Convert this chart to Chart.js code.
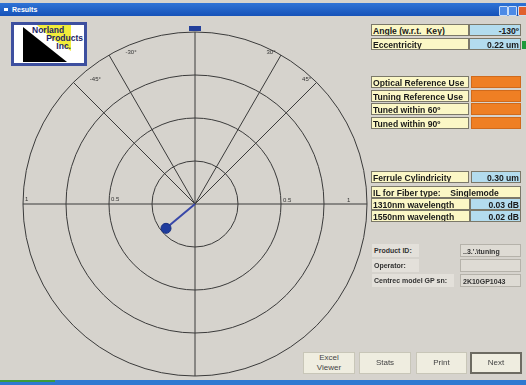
<!DOCTYPE html>
<html>
<head>
<meta charset="utf-8">
<script src="https://cdn.jsdelivr.net/npm/chart.js@4"></script>
<style>
  body { margin: 0; width: 526px; height: 385px; overflow: hidden; background: #d6d3cd;
         font-family: "Liberation Sans", Arial, sans-serif; position: relative; }
  .title { position: absolute; left: 0; top: 3px; width: 526px; height: 13px;
           background: linear-gradient(#2f73d6, #1652b8); color: #fff; font-size: 7px; font-weight: bold; line-height: 13px; }
  .title span { margin-left: 12px; }
  .title i { position: absolute; left: 4px; top: 5px; width: 4px; height: 3px; background: #fff; }
  .wbtn { position: absolute; top: 3px; width: 7px; height: 8px; border-radius: 1px; background: #4d8ae6; border: 1px solid #c9dcf5; }
  #chartBox { position: absolute; left: 13px; top: 22px; width: 364px; height: 364px; }
  .box { position: absolute; height: 11px; line-height: 11px; font-size: 8.6px; font-weight: bold; color: #1a1a1a;
         box-sizing: border-box; border: 1px solid #7b7869; white-space: pre; overflow: hidden; }
  .lab { background: #fbf7c6; padding-left: 1px; }
  .val { background: #b3dcee; text-align: right; padding-right: 1px; }
  .org { background: #ef7f24; border-color: #d06a1c; }
  .grey { position: absolute; height: 13px; line-height: 13px; font-size: 7px; font-weight: bold; color: #333;
          background: #e3e0da; padding-left: 2px; box-sizing: border-box; white-space: pre; }
  .gval { border: 1px solid #b5b2aa; background: #dedbd4; }
  .btn { position: absolute; top: 352px; height: 22px; box-sizing: border-box; background: #efede0;
         border: 1px solid #c8c6b8; font-size: 8px; color: #444; text-align: center; display: flex;
         align-items: center; justify-content: center; line-height: 10px; }
  .bottom { position: absolute; left: 0; top: 380px; width: 526px; height: 5px; background: #2f79d1; }
</style>
</head>
<body>
<div class="title"><i></i><span>Results</span>
  <div class="wbtn" style="left:499px"></div>
  <div class="wbtn" style="left:508px"></div>
  <div class="wbtn" style="left:518px;background:#e0602e"></div>
</div>

<div id="chartBox"><canvas id="polar" width="364" height="364"></canvas></div>

<svg style="position:absolute;left:11px;top:22px" width="76" height="44" viewBox="0 0 76 44">
  <rect x="1.5" y="1.5" width="73" height="41" fill="#fff" stroke="#3d4f9f" stroke-width="3"/>
  <polygon points="26,3 60,3 60,29 40,16" fill="#f2ec3a"/>
  <polygon points="12,5 12,40 56,40" fill="#000"/>
  <text x="21" y="11" font-size="8.5" font-weight="bold" fill="#1c2466" font-family="Liberation Sans">Norland</text>
  <text x="72" y="19" font-size="8.5" font-weight="bold" fill="#1c2466" text-anchor="end" font-family="Liberation Sans">Products</text>
  <text x="60" y="27" font-size="8.5" font-weight="bold" fill="#1c2466" text-anchor="end" font-family="Liberation Sans">Inc.</text>
</svg>

<div id="panel"></div>

<div class="btn" style="left:303px;width:52px">Excel<br>Viewer</div>
<div class="btn" style="left:359px;width:52px">Stats</div>
<div class="btn" style="left:416px;width:51px">Print</div>
<div class="btn" style="left:470px;width:52px;border:2px solid #6d6b62">Next</div>
<div class="bottom"></div>
<div style="position:absolute;left:0;top:380px;width:55px;height:2px;background:#3c9b3c"></div>

<script>
// polar grid
const ringValues = [0.25, 0.5, 0.75, 1];
const ringLabelValues = [0.5, 1];
const ringLabels = ['0.5', '1'];
const spokeAngles = [-45, -30, 30, 45];
const spokeLabels = ['-45°', '-30°', '30°', '45°'];

// measurement
const angleDeg = -130;      // w.r.t. key, 0 = top
const eccentricity = 0.22;  // um
const ferrule = 0.30;
const il1310 = 0.03;
const il1550 = 0.02;

// panel
const topRows = [['Angle (w.r.t.  Key)', angleDeg + 'º'], ['Eccentricity', eccentricity.toFixed(2) + ' um']];
const flagRows = ['Optical Reference Use', 'Tuning Reference Use', 'Tuned within 60º', 'Tuned within 90º'];
const infoRows = [['Product ID:', "..3.'.\\tuning"], ['Operator:', ''], ['Centrec model GP sn:', '2K10GP1043']];

const panel = document.getElementById('panel');
function box(cls, x, y, w, txt, h) {
  const d = document.createElement('div');
  d.className = cls;
  d.style.left = x + 'px'; d.style.top = y + 'px'; d.style.width = w + 'px';
  if (h) { d.style.height = h + 'px'; d.style.lineHeight = h + 'px'; }
  d.textContent = txt;
  panel.appendChild(d);
}
topRows.forEach((r, i) => {
  box('box lab', 371, 24 + i * 14, 98, r[0], 12);
  box('box val', 469, 24 + i * 14, 52, r[1], 12);
});
document.body.insertAdjacentHTML('beforeend', '<div style="position:absolute;left:522px;top:41px;width:4px;height:8px;background:#1d9a3a"></div>');
flagRows.forEach((r, i) => {
  box('box lab', 371, 76 + i * 13.5, 98, r, 12);
  box('box org', 471, 76 + i * 13.5, 50, '', 12);
});
box('box lab', 371, 171, 98, 'Ferrule Cylindricity', 12);
box('box val', 471, 171, 50, ferrule.toFixed(2) + ' um', 12);
box('box lab', 371, 186, 150, 'IL for Fiber type:    Singlemode', 12);
box('box lab', 371, 198, 99, '1310nm wavelength', 12);
box('box val', 470, 198, 51, il1310.toFixed(2) + ' dB', 12);
box('box lab', 371, 210, 99, '1550nm wavelength', 12);
box('box val', 470, 210, 51, il1550.toFixed(2) + ' dB', 12);
infoRows.forEach((r, i) => {
  box('grey', 372, 244 + i * 15, i === 2 ? 82 : 47, r[0]);
  box('grey gval', 460, 244 + i * 15, 61, r[1]);
});

// point of the eccentricity vector
const rad = angleDeg * Math.PI / 180;
const eccX = eccentricity * Math.sin(rad);
const eccY = eccentricity * Math.cos(rad);

const gridPlugin = {
  id: 'polarGrid',
  beforeDatasetsDraw(chart) {
    const { ctx, scales: { x, y } } = chart;
    const cx = x.getPixelForValue(0), cy = y.getPixelForValue(0);
    const R = x.getPixelForValue(1) - cx;
    ctx.save();
    ctx.strokeStyle = '#3a3a3a';
    ctx.lineWidth = 1;
    ringValues.forEach(v => {
      ctx.beginPath();
      ctx.arc(cx, cy, R * v, 0, Math.PI * 2);
      ctx.stroke();
    });
    ctx.beginPath();
    ctx.moveTo(x.getPixelForValue(-1), cy); ctx.lineTo(x.getPixelForValue(1), cy);
    ctx.moveTo(cx, y.getPixelForValue(1)); ctx.lineTo(cx, y.getPixelForValue(-1));
    spokeAngles.forEach(a => {
      const r = a * Math.PI / 180;
      ctx.moveTo(cx, cy);
      ctx.lineTo(x.getPixelForValue(Math.sin(r)), y.getPixelForValue(Math.cos(r)));
    });
    ctx.stroke();

    ctx.fillStyle = '#333';
    ctx.font = '6px "Liberation Sans", Arial';
    ctx.textBaseline = 'middle';
    ctx.textAlign = 'center';
    spokeAngles.forEach((a, i) => {
      const r = a * Math.PI / 180;
      const px = x.getPixelForValue(Math.sin(r)), py = y.getPixelForValue(Math.cos(r));
      ctx.fillText(spokeLabels[i], px + (a < 0 ? 22 : -10), py - 3);
    });
    ctx.textAlign = 'left';
    ctx.textBaseline = 'alphabetic';
    ringLabelValues.forEach((v, i) => {
      ctx.fillText(ringLabels[i], x.getPixelForValue(-v) + 2, cy - 3);
      ctx.fillText(ringLabels[i], Math.min(x.getPixelForValue(v) + 2, x.getPixelForValue(1) - 20), cy - 2);
    });

    // key marker
    ctx.fillStyle = '#233f9a';
    ctx.fillRect(cx - 6, y.getPixelForValue(1) - 6, 12, 5);
    ctx.restore();
  }
};

new Chart(document.getElementById('polar'), {
  type: 'scatter',
  data: {
    datasets: [{
      data: [{ x: 0, y: 0 }, { x: eccX, y: eccY }],
      showLine: true,
      borderColor: '#3847a8',
      borderWidth: 2,
      pointRadius: [0, 5],
      pointBackgroundColor: '#1f3c9e',
      pointBorderColor: '#182f80',
      pointBorderWidth: 1,
      clip: false
    }]
  },
  options: {
    responsive: false,
    animation: false,
    layout: { padding: 10 },
    scales: {
      x: { type: 'linear', min: -1, max: 1, display: false },
      y: { type: 'linear', min: -1, max: 1, display: false }
    },
    plugins: { legend: { display: false }, tooltip: { enabled: false } }
  },
  plugins: [gridPlugin]
});
</script>
</body>
</html>
